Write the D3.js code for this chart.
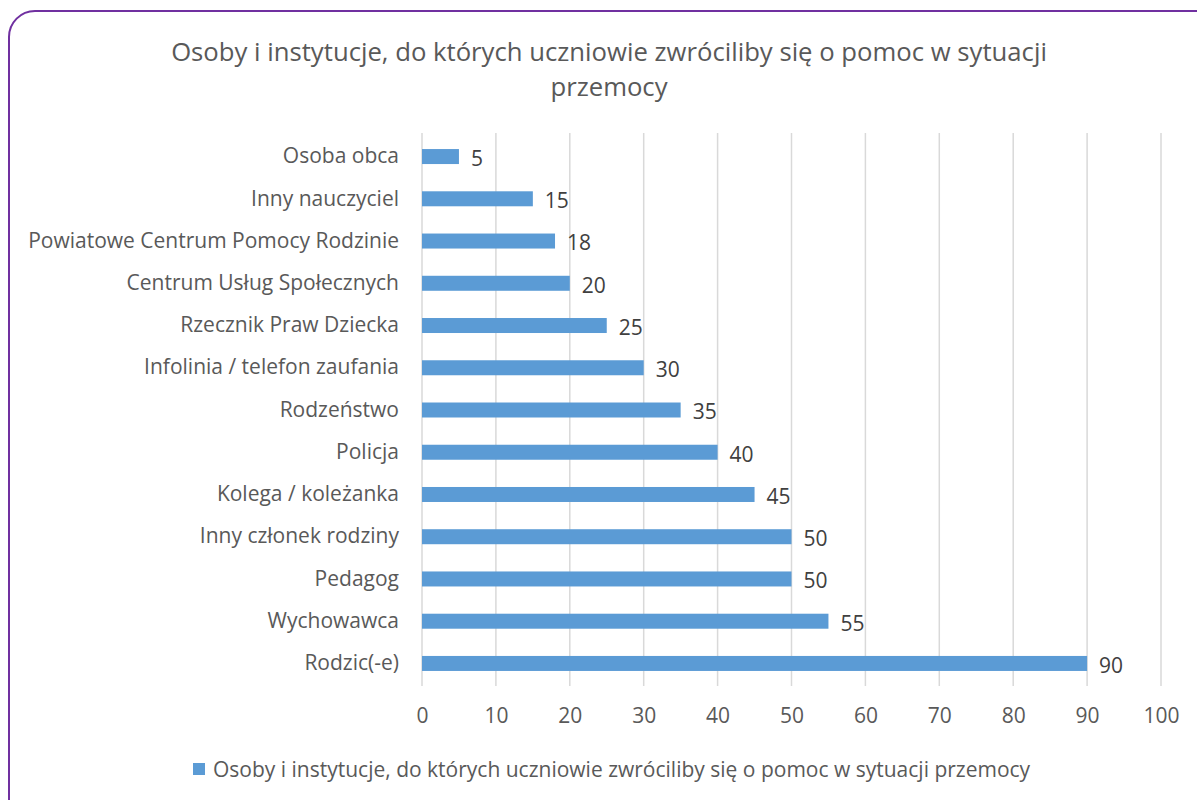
<!DOCTYPE html>
<html><head><meta charset="utf-8">
<script src="https://cdn.jsdelivr.net/npm/d3@7"></script>
<style>body{margin:0;background:#fff}</style>
</head><body><svg id="c" width="1197" height="800"></svg>
<script>
const categories = ["Osoba obca","Inny nauczyciel","Powiatowe Centrum Pomocy Rodzinie","Centrum Usług Społecznych","Rzecznik Praw Dziecka","Infolinia / telefon zaufania","Rodzeństwo","Policja","Kolega / koleżanka","Inny członek rodziny","Pedagog","Wychowawca","Rodzic(-e)"];
const values = [5,15,18,20,25,30,35,40,45,50,50,55,90];
const xTicks = [0,10,20,30,40,50,60,70,80,90,100];
const titleLines = ["Osoby i instytucje, do których uczniowie zwróciliby się o pomoc w sytuacji","przemocy"];
const seriesName = "Osoby i instytucje, do których uczniowie zwróciliby się o pomoc w sytuacji przemocy";

const svg = d3.select("#c");
svg.append("rect").attr("x",9).attr("y",11).attr("width",1220).attr("height",820)
  .attr("rx",26).attr("fill","#fff").attr("stroke","#7030A0").attr("stroke-width",2);

const font = "'Open Sans', Lato, sans-serif";
svg.append("text").attr("text-anchor","middle").attr("fill","#595959")
  .style("font-family",font).style("font-size","25.7px")
  .selectAll("tspan").data(titleLines).join("tspan")
  .attr("x",609).attr("y",(d,i)=>61+i*35).text(d=>d);

const x = d3.scaleLinear().domain([0,100]).range([422,1161]);
const y = d3.scaleBand().domain(categories).range([133,687]).paddingInner(0.645).paddingOuter(0.38);

const grid = svg.append("g");
grid.selectAll("line").data(xTicks).join("line")
  .attr("x1",d=>x(d)).attr("x2",d=>x(d)).attr("y1",133).attr("y2",686)
  .attr("stroke","#d9d9d9").attr("stroke-width",1.5);

const xAxis = svg.append("g").attr("transform","translate(0,686)")
  .call(d3.axisBottom(x).tickValues(xTicks).tickSize(0).tickPadding(22));
xAxis.select(".domain").remove();
xAxis.selectAll("text").attr("fill","#595959").style("font-family",font).style("font-size","21px");

const yAxis = svg.append("g").attr("transform","translate(422,0)")
  .call(d3.axisLeft(y).tickSize(0).tickPadding(23));
yAxis.select(".domain").remove();
yAxis.selectAll("text").attr("fill","#595959").style("font-family",font).style("font-size","21px");

svg.append("g").selectAll("rect").data(values).join("rect")
  .attr("x",x(0)).attr("y",(d,i)=>y(categories[i]))
  .attr("width",d=>x(d)-x(0)).attr("height",y.bandwidth()).attr("fill","#5B9BD5");

svg.append("g").selectAll("text").data(values).join("text")
  .attr("x",d=>x(d)+12).attr("y",(d,i)=>y(categories[i])+y.bandwidth()/2)
  .attr("dy","0.45em").attr("fill","#404040")
  .style("font-family",font).style("font-size","21px").text(d=>d);

const lg = svg.append("g");
lg.append("rect").attr("x",193).attr("y",763).attr("width",12).attr("height",12).attr("fill","#5B9BD5");
lg.append("text").attr("x",213).attr("y",769).attr("dy","0.37em").attr("fill","#595959")
  .style("font-family",font).style("font-size","21px").text(seriesName);
</script></body></html>
